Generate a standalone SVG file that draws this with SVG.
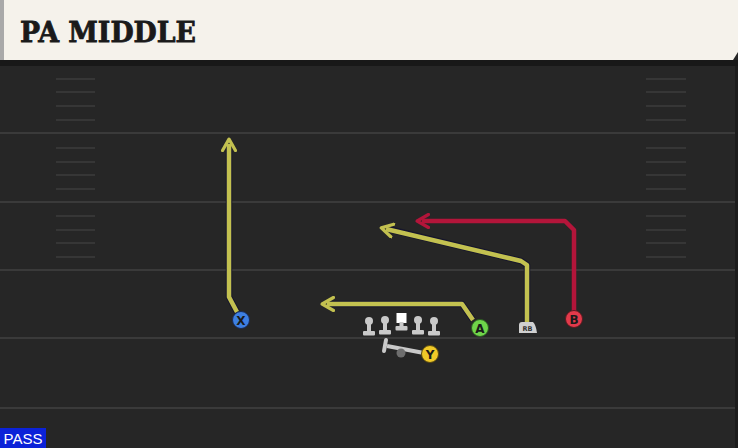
<svg xmlns="http://www.w3.org/2000/svg" width="738" height="448" viewBox="0 0 738 448">
<style>
.yard{stroke:#3a3a3a;stroke-width:2}
.hash{stroke:#363636;stroke-width:2}
.rt{fill:none;stroke-width:4.5;stroke-linejoin:round}
.out{fill:none;stroke:#16162c;stroke-width:6.5;stroke-linejoin:round}
.yl{stroke:#c3c150}
.rd{stroke:#b3153a}
.lbl{font-family:"DejaVu Sans",sans-serif;font-weight:bold;font-size:12px;fill:#1a1a1a;text-anchor:middle}
</style>
<defs>
<marker id="ay" viewBox="0 0 10 10" refX="5" refY="5" markerWidth="3.6" markerHeight="3.6" orient="auto" markerUnits="strokeWidth">
<path d="M1,1 L8,5 L1,9" fill="none" stroke="#c3c150" stroke-width="2" stroke-linecap="round" stroke-linejoin="round"/>
</marker>
<marker id="ar" viewBox="0 0 10 10" refX="5" refY="5" markerWidth="3.6" markerHeight="3.6" orient="auto" markerUnits="strokeWidth">
<path d="M1,1 L8,5 L1,9" fill="none" stroke="#b3153a" stroke-width="2" stroke-linecap="round" stroke-linejoin="round"/>
</marker>
<g id="lineman">
<circle cx="0" cy="-6" r="4" fill="#c9c9c9"/>
<rect x="-2" y="-5" width="4" height="10" fill="#c9c9c9"/>
<rect x="-6" y="4" width="12" height="4.5" rx="1" fill="#c9c9c9"/>
</g>
</defs>
<rect width="738" height="448" fill="#262626"/>
<g id="field">
<line class="yard" x1="0" y1="133" x2="738" y2="133"/>
<line class="yard" x1="0" y1="202" x2="738" y2="202"/>
<line class="yard" x1="0" y1="270" x2="738" y2="270"/>
<line class="yard" x1="0" y1="338" x2="738" y2="338"/>
<line class="yard" x1="0" y1="408" x2="738" y2="408"/>
<g class="hash">
<line x1="56" y1="79" x2="95" y2="79"/><line x1="56" y1="92" x2="95" y2="92"/><line x1="56" y1="106" x2="95" y2="106"/><line x1="56" y1="120" x2="95" y2="120"/>
<line x1="56" y1="148" x2="95" y2="148"/><line x1="56" y1="162" x2="95" y2="162"/><line x1="56" y1="175" x2="95" y2="175"/><line x1="56" y1="189" x2="95" y2="189"/>
<line x1="56" y1="216" x2="95" y2="216"/><line x1="56" y1="230" x2="95" y2="230"/><line x1="56" y1="243" x2="95" y2="243"/><line x1="56" y1="257" x2="95" y2="257"/>
<line x1="646" y1="79" x2="686" y2="79"/><line x1="646" y1="92" x2="686" y2="92"/><line x1="646" y1="106" x2="686" y2="106"/><line x1="646" y1="120" x2="686" y2="120"/>
<line x1="646" y1="148" x2="686" y2="148"/><line x1="646" y1="162" x2="686" y2="162"/><line x1="646" y1="175" x2="686" y2="175"/><line x1="646" y1="189" x2="686" y2="189"/>
<line x1="646" y1="216" x2="686" y2="216"/><line x1="646" y1="230" x2="686" y2="230"/><line x1="646" y1="243" x2="686" y2="243"/><line x1="646" y1="257" x2="686" y2="257"/>
</g>
<rect x="735" y="62" width="3" height="386" fill="#1c1c1c"/>
</g>
<g id="header">
<rect x="0" y="60" width="738" height="6" fill="#181818"/>
<path d="M0,0 H738 V52 L733,60 H0 Z" fill="#f5f2eb"/>
<rect x="0" y="0" width="4" height="60" fill="#a9a9a9"/>
<text x="20" y="42" font-family="DejaVu Serif,serif" font-weight="bold" font-size="28" fill="#1a1a1a" stroke="#1a1a1a" stroke-width="0.8" textLength="176" lengthAdjust="spacingAndGlyphs">PA MIDDLE</text>
</g>
<g id="connectors">
<polyline class="out" points="237,312 229,297 229,147"/>
<polyline class="rt yl" points="237,312 229,297 229,144" marker-end="url(#ay)"/>
<polyline class="out" points="473,320 462,304 330,304"/>
<polyline class="rt yl" points="473,320 462,304 327,304" marker-end="url(#ay)"/>
<polyline class="out" points="527,322 527,265 521,261 388,229"/>
<polyline class="rt yl" points="527,322 527,265 521,261 386,229" marker-end="url(#ay)"/>
<polyline class="rt rd" points="574,311 574,230 565,221 422,221" marker-end="url(#ar)"/>
<line x1="387" y1="346" x2="424" y2="353" stroke="#c9c9c9" stroke-width="4"/>
<line x1="386" y1="340" x2="384" y2="351" stroke="#c9c9c9" stroke-width="4" stroke-linecap="round"/>
</g>
<g id="ol">
<use href="#lineman" x="369" y="327"/>
<use href="#lineman" x="385" y="326"/>
<g id="center"><rect x="396.5" y="313" width="10" height="10" fill="#ffffff"/><rect x="399.5" y="322" width="4" height="5" fill="#c9c9c9"/><rect x="395.5" y="326" width="12" height="4.5" rx="1" fill="#c9c9c9"/></g>
<use href="#lineman" x="418" y="326"/>
<use href="#lineman" x="434" y="327"/>
</g>
<g id="qb"><circle cx="401" cy="353" r="4.5" fill="#6e6e6e"/></g>
<g id="node-X"><circle cx="241" cy="320" r="8.5" fill="#3d7fe2" stroke="#1a2a55" stroke-width="1"/><text class="lbl" x="241" y="324.5">X</text></g>
<g id="node-A"><circle cx="480" cy="328" r="8.5" fill="#6fd44a" stroke="#2a5a20" stroke-width="1"/><text class="lbl" x="480" y="332.5">A</text></g>
<g id="node-B"><circle cx="574" cy="319" r="8.5" fill="#e23a4b" stroke="#5a1a20" stroke-width="1"/><text class="lbl" x="574" y="323.5">B</text></g>
<g id="node-Y"><circle cx="430" cy="354" r="8.5" fill="#f0c928" stroke="#5a4a10" stroke-width="1"/><text class="lbl" x="430" y="358.5">Y</text></g>
<g id="node-RB"><path d="M519,325 Q519,322 522,322 H533 Q536,325 537,333 H519 Z" fill="#d0d0d0"/><text x="527.5" y="331" font-family="DejaVu Sans,sans-serif" font-size="6.5" font-weight="bold" fill="#333" text-anchor="middle">RB</text></g>
<g id="pass"><rect x="0" y="428" width="46" height="20" fill="#0b22d8"/><text x="23" y="444" font-family="Liberation Sans,sans-serif" font-size="15" fill="#ffffff" text-anchor="middle">PASS</text></g>
</svg>
